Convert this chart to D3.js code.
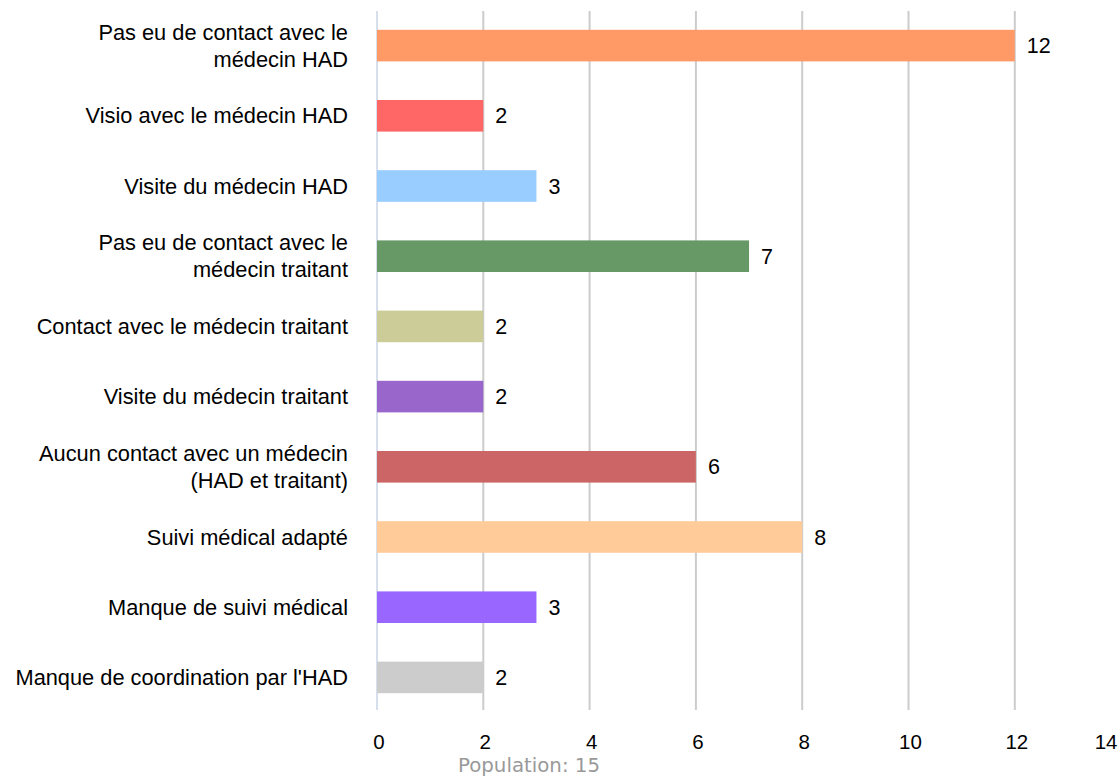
<!DOCTYPE html>
<html>
<head>
<meta charset="utf-8">
<script src="https://cdn.jsdelivr.net/npm/d3@7/dist/d3.min.js"></script>
<style>
  html, body { margin: 0; padding: 0; background: #fff; }
  svg { display: block; }
</style>
</head>
<body>
<svg id="chart" width="1118" height="776"></svg>
<script>
const categories = [
  "Pas eu de contact avec le\nmédecin HAD",
  "Visio avec le médecin HAD",
  "Visite du médecin HAD",
  "Pas eu de contact avec le\nmédecin traitant",
  "Contact avec le médecin traitant",
  "Visite du médecin traitant",
  "Aucun contact avec un médecin\n(HAD et traitant)",
  "Suivi médical adapté",
  "Manque de suivi médical",
  "Manque de coordination par l'HAD"
];
const values = [12, 2, 3, 7, 2, 2, 6, 8, 3, 2];
const colors = ["#FF9966", "#FF6666", "#99CCFF", "#669966", "#CCCC99",
                "#9966CC", "#CC6666", "#FFCC99", "#9966FF", "#CCCCCC"];
const xTicks = [0, 2, 4, 6, 8, 10, 12, 14];
const footnote = "Population: 15";

const W = 1118;
const svg = d3.select("#chart");
const x = d3.scaleLinear().domain([0, 14]).range([377, 377 + 14 * 53.15]);
const y = d3.scaleBand().domain(d3.range(categories.length))
  .range([10.5, 712.5]).paddingInner(0.55).paddingOuter(0.275);

const gridTop = 11, gridBottom = 710;
const labelFont = "'Liberation Sans', Arial, Helvetica, sans-serif";

// gridlines
svg.append("g").selectAll("line").data(xTicks.filter(d => d > 0)).join("line")
  .attr("x1", d => x(d)).attr("x2", d => x(d))
  .attr("y1", gridTop).attr("y2", gridBottom)
  .attr("stroke", "#cccccc").attr("stroke-width", 2);
// zero axis line
svg.append("line")
  .attr("x1", x(0)).attr("x2", x(0)).attr("y1", gridTop).attr("y2", gridBottom)
  .attr("stroke", "#c8d4e4").attr("stroke-width", 1.5);

// bars
svg.append("g").selectAll("rect").data(values).join("rect")
  .attr("x", x(0))
  .attr("y", (d, i) => y(i))
  .attr("width", d => x(d) - x(0))
  .attr("height", y.bandwidth())
  .attr("fill", (d, i) => colors[i]);

// value labels
svg.append("g").selectAll("text").data(values).join("text")
  .attr("x", d => x(d) + 12)
  .attr("y", (d, i) => y(i) + y.bandwidth() / 2 + 7.5)
  .attr("font-family", labelFont).attr("font-size", 21.5)
  .attr("fill", "#000")
  .text(d => d);

// category labels
const lineH = 27;
const catG = svg.append("g");
categories.forEach((c, i) => {
  const lines = c.split("\n");
  const cy = y(i) + y.bandwidth() / 2;
  const t = catG.append("text")
    .attr("text-anchor", "end")
    .attr("font-family", labelFont).attr("font-size", 21.8)
    .attr("fill", "#000");
  lines.forEach((ln, k) => {
    t.append("tspan")
      .attr("x", 348)
      .attr("y", cy + 7.5 + (k - (lines.length - 1) / 2) * lineH)
      .text(ln);
  });
});

// x tick labels
const xAxis = d3.axisBottom(x).tickValues(xTicks).tickSize(0).tickPadding(0).tickFormat(d3.format("d"));
const axG = svg.append("g").attr("transform", "translate(1.5,749)").call(xAxis);
axG.select(".domain").remove();
axG.selectAll("text")
  .attr("font-family", labelFont).attr("font-size", 20.5)
  .attr("fill", "#000").attr("dy", 0);
// keep the last label inside the canvas
axG.selectAll(".tick").filter(d => d === 14).select("text")
  .attr("text-anchor", "end")
  .attr("x", W - 1.5 - x(14) - 1);

// footnote
svg.append("text")
  .attr("x", 529).attr("y", 772)
  .attr("text-anchor", "middle")
  .attr("font-family", "'DejaVu Sans', sans-serif").attr("font-size", 19.8)
  .attr("fill", "#999999")
  .text(footnote);
</script>
</body>
</html>
